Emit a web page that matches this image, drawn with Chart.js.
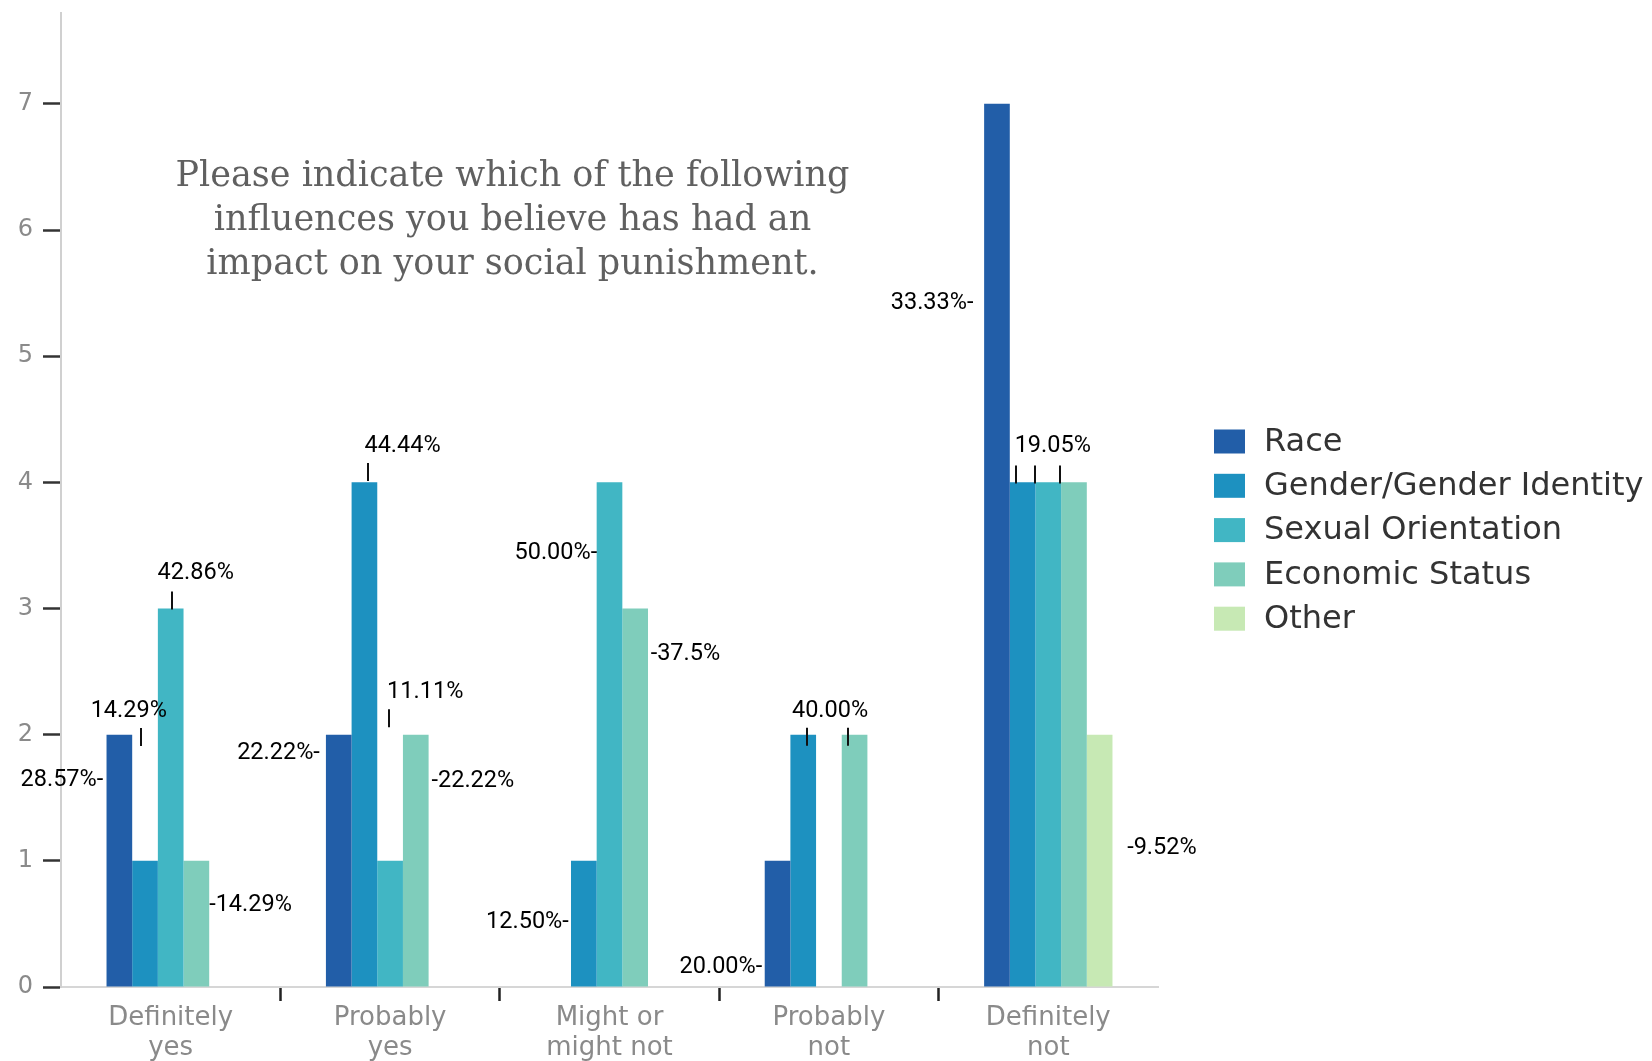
<!DOCTYPE html>
<html>
<head>
<meta charset="utf-8">
<script src="https://cdn.jsdelivr.net/npm/chart.js@4.4.0/dist/chart.umd.min.js"></script>
<style>
html,body{margin:0;padding:0;background:#fff;overflow:hidden;}
canvas{display:block;}
</style>
</head>
<body>
<canvas id="c" width="1652" height="1061"></canvas>
<script>
// ---------- data ----------
const categories = [['Definitely','yes'],['Probably','yes'],['Might or','might not'],['Probably','not'],['Definitely','not']];
const seriesNames = ['Race','Gender/Gender Identity','Sexual Orientation','Economic Status','Other'];
const race     = [2, 2, 0, 1, 7];
const gender   = [1, 4, 1, 2, 4];
const sexual   = [3, 1, 4, 0, 4];
const economic = [1, 2, 3, 2, 4];
const other    = [0, 0, 0, 0, 2];
const yTickValues = [0, 1, 2, 3, 4, 5, 6, 7];
const titleLines = ['Please indicate which of the following', 'influences you believe has had an', 'impact on your social punishment.'];

// percentage annotations: text, series index, category index
const pctText     = ['28.57%-','14.29%','42.86%','-14.29%','22.22%-','44.44%','11.11%','-22.22%','12.50%-','50.00%-','-37.5%','20.00%-','40.00%','33.33%-','19.05%','-9.52%'];
const pctSeries   = [0,1,2,3, 0,1,2,3, 1,2,3, 0,1, 0,1,4];
const pctCategory = [0,0,0,0, 1,1,1,1, 2,2,2, 3,3, 4,4,4];
// marker ticks: series index, category index
const markSeries   = [1,2,1,2,1,3,1,2,3];
const markCategory = [0,0,1,1,3,3,4,4,4];

// ---------- placement / style (not data) ----------
const colors = ['#225ea8','#1d91c0','#41b6c4','#7fcdbb','#c7e9b4'];
// align: 'end' = text ends at anchor, 'start' = text begins at anchor; dx from bar centre (px); y in axis units
const pctPlace = [
  {a:'end',dx:-16.1,y:1.640},{a:'start',dx:-54.4,y:2.189},{a:'start',dx:-13.1,y:3.278},{a:'start',dx:12.8,y:0.650},
  {a:'end',dx:-18.9,y:1.852},{a:'start',dx:0.0,y:4.290},{a:'start',dx:-3.0,y:2.340},{a:'start',dx:15.7,y:1.632},
  {a:'end',dx:-15.0,y:0.515},{a:'end',dx:-12.3,y:3.439},{a:'start',dx:15.5,y:2.636},
  {a:'end',dx:-15.3,y:0.161},{a:'start',dx:-11.3,y:2.187},
  {a:'end',dx:-23.5,y:5.417},{a:'start',dx:-8.0,y:4.285},{a:'start',dx:27.5,y:1.101}
];
const markPlace = [
  {dx:-4.4,y:1.910},{dx:1.5,y:2.993},{dx:3.2,y:4.010},{dx:-1.0,y:2.058},
  {dx:3.4,y:1.912},{dx:-7.0,y:1.912},{dx:-6.3,y:3.990},{dx:-13.7,y:3.990},{dx:-14.2,y:3.990}
];

const seriesData = [race, gender, sexual, economic, other];

const decorPlugin = {
  id: 'decor',
  afterDatasetsDraw(chart) {
    const ctx = chart.ctx;
    const ys = chart.scales.y;
    ctx.save();
    ctx.fillStyle = '#000';
    ctx.font = '23.5px Roboto';
    ctx.textBaseline = 'middle';
    pctText.forEach((t, i) => {
      const bar = chart.getDatasetMeta(pctSeries[i]).data[pctCategory[i]];
      const p = pctPlace[i];
      ctx.textAlign = p.a === 'end' ? 'right' : 'left';
      ctx.fillText(t, bar.x + p.dx, ys.getPixelForValue(p.y));
    });
    ctx.strokeStyle = '#111';
    ctx.lineWidth = 2;
    markSeries.forEach((s, i) => {
      const bar = chart.getDatasetMeta(s).data[markCategory[i]];
      const p = markPlace[i];
      const x = Math.round(bar.x + p.dx);
      const yb = ys.getPixelForValue(p.y);
      ctx.beginPath();
      ctx.moveTo(x, yb);
      ctx.lineTo(x, yb - 18);
      ctx.stroke();
    });
    ctx.restore();
  },
  afterDraw(chart) {
    const ctx = chart.ctx;
    ctx.save();
    // title
    ctx.fillStyle = '#606060';
    ctx.font = '35px "DejaVu Serif"';
    ctx.textAlign = 'center';
    ctx.textBaseline = 'alphabetic';
    titleLines.forEach((l, i) => ctx.fillText(l, 512.5, 186 + i * 44));
    // legend
    ctx.font = '32px "DejaVu Sans"';
    ctx.textAlign = 'left';
    ctx.textBaseline = 'middle';
    chart.data.datasets.forEach((d, i) => {
      const cy = 441.5 + i * 44.3;
      ctx.fillStyle = d.backgroundColor;
      ctx.fillRect(1214, cy - 12, 31, 24);
      ctx.fillStyle = '#333';
      ctx.fillText(d.label, 1264, cy + 1);
    });
    ctx.restore();
  }
};

new Chart(document.getElementById('c').getContext('2d'), {
  type: 'bar',
  data: {
    labels: categories,
    datasets: seriesNames.map((n, i) => ({
      label: n,
      data: seriesData[i],
      backgroundColor: colors[i],
      borderWidth: 0,
      categoryPercentage: 0.585,
      barPercentage: 1
    }))
  },
  options: {
    responsive: false,
    animation: false,
    devicePixelRatio: 1,
    layout: { padding: { top: 13, right: 494, left: 0, bottom: 0 } },
    plugins: { legend: { display: false }, tooltip: { enabled: false }, title: { display: false } },
    scales: {
      x: {
        grid: {
          display: true, offset: true, drawOnChartArea: false, drawTicks: true,
          tickLength: 14, tickWidth: 2.5,
          tickColor: (c) => (c.index > 0 && c.index < categories.length) ? '#222' : 'rgba(0,0,0,0)'
        },
        border: { display: true, color: '#d6d6d6', width: 2 },
        ticks: {
          font: { family: 'DejaVu Sans', size: 26, lineHeight: 1.13 },
          color: '#8a8a8a', padding: 3, maxRotation: 0, autoSkip: false
        },
        afterFit: (s) => { s.height = 74; s.paddingLeft = 0; s.paddingRight = 0; }
      },
      y: {
        min: 0, max: 7.72,
        afterBuildTicks: (s) => { s.ticks = yTickValues.map(v => ({ value: v })); },
        grid: { drawOnChartArea: false, drawTicks: true, tickLength: 18, tickWidth: 2.5, tickColor: '#333' },
        border: { display: true, color: '#d0d0d0', width: 2 },
        ticks: { font: { family: 'DejaVu Sans', size: 24 }, color: '#8a8a8a', padding: 10 },
        afterFit: (s) => { s.width = 61; s.paddingTop = 0; s.paddingBottom = 0; }
      }
    }
  },
  plugins: [decorPlugin]
});
</script>
</body>
</html>
